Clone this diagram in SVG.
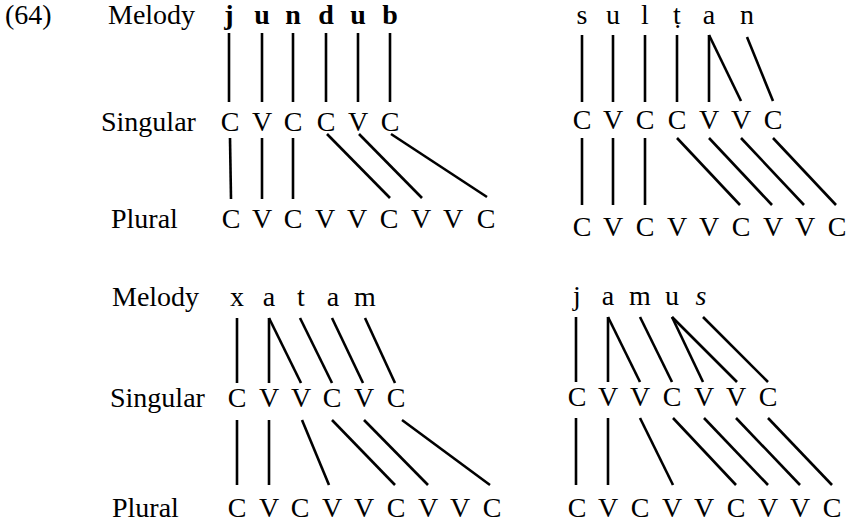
<svg xmlns="http://www.w3.org/2000/svg" width="852" height="523" viewBox="0 0 852 523">
<style>
text{font-family:"Liberation Serif","Times New Roman",serif;font-size:28px;fill:#000}
.s{text-anchor:middle}
.b{font-weight:bold}
.it{font-style:italic}
.ln line{stroke:#000;stroke-width:2.6;stroke-linecap:butt}
</style>
<rect width="852" height="523" fill="#fff"/>
<g id="ex-number"><text x="5" y="24">(64)</text></g>
<g id="labels">
<text id="lbl-melody-1" x="108" y="24">Melody</text>
<text id="lbl-singular-1" x="101" y="131">Singular</text>
<text id="lbl-plural-1" x="111" y="228">Plural</text>
<text id="lbl-melody-2" x="112" y="306">Melody</text>
<text id="lbl-singular-2" x="110" y="407">Singular</text>
<text id="lbl-plural-2" x="112" y="517">Plural</text>
</g>
<g id="jundub" class="s">
<g id="jundub-melody" class="b">
<text x="229" y="24">j</text><text x="262" y="24">u</text><text x="293" y="24">n</text><text x="326" y="24">d</text><text x="358" y="24">u</text><text x="390" y="24">b</text>
</g>
<g id="jundub-singular">
<text x="230" y="131">C</text><text x="262" y="131">V</text><text x="293" y="131">C</text><text x="326" y="131">C</text><text x="358" y="131">V</text><text x="390" y="131">C</text>
</g>
<g id="jundub-plural">
<text x="231" y="228">C</text><text x="262" y="228">V</text><text x="293" y="228">C</text><text x="325" y="228">V</text><text x="357" y="228">V</text><text x="389" y="228">C</text><text x="421" y="228">V</text><text x="453" y="228">V</text><text x="486" y="228">C</text>
</g>
</g>
<g id="sultan" class="s">
<g id="sultan-melody">
<text x="582" y="24">s</text><text x="613" y="24">u</text><text x="645" y="24">l</text><text x="677" y="24">ṭ</text><text x="709" y="24">a</text><text x="747" y="24">n</text>
</g>
<g id="sultan-singular">
<text x="582" y="129">C</text><text x="613" y="129">V</text><text x="645" y="129">C</text><text x="677" y="129">C</text><text x="709" y="129">V</text><text x="741" y="129">V</text><text x="773" y="129">C</text>
</g>
<g id="sultan-plural">
<text x="582" y="236">C</text><text x="613" y="236">V</text><text x="645" y="236">C</text><text x="677" y="236">V</text><text x="709" y="236">V</text><text x="741" y="236">C</text><text x="773" y="236">V</text><text x="805" y="236">V</text><text x="837" y="236">C</text>
</g>
</g>
<g id="xatam" class="s">
<g id="xatam-melody">
<text x="237" y="306">x</text><text x="269" y="306">a</text><text x="301" y="306">t</text><text x="333" y="306">a</text><text x="365" y="306">m</text>
</g>
<g id="xatam-singular">
<text x="237" y="407">C</text><text x="269" y="407">V</text><text x="301" y="407">V</text><text x="332" y="407">C</text><text x="364" y="407">V</text><text x="396" y="407">C</text>
</g>
<g id="xatam-plural">
<text x="237" y="517">C</text><text x="269" y="517">V</text><text x="300" y="517">C</text><text x="332" y="517">V</text><text x="364" y="517">V</text><text x="396" y="517">C</text><text x="428" y="517">V</text><text x="460" y="517">V</text><text x="492" y="517">C</text>
</g>
</g>
<g id="jamus" class="s">
<g id="jamus-melody">
<text x="577" y="305">j</text><text x="608" y="305">a</text><text x="640" y="305">m</text><text x="672" y="305">u</text><text class="it" x="701" y="305">s</text>
</g>
<g id="jamus-singular">
<text x="577" y="406">C</text><text x="608" y="406">V</text><text x="640" y="406">V</text><text x="672" y="406">C</text><text x="704" y="406">V</text><text x="736" y="406">V</text><text x="768" y="406">C</text>
</g>
<g id="jamus-plural">
<text x="577" y="517">C</text><text x="608" y="517">V</text><text x="640" y="517">C</text><text x="672" y="517">V</text><text x="704" y="517">V</text><text x="736" y="517">C</text><text x="768" y="517">V</text><text x="800" y="517">V</text><text x="832" y="517">C</text>
</g>
</g>
<g id="connectors" class="ln">
<!-- jundub melody-singular -->
<line x1="229" y1="33" x2="229" y2="102"/><line x1="262" y1="33" x2="262" y2="102"/><line x1="293" y1="33" x2="293" y2="102"/><line x1="326" y1="33" x2="326" y2="102"/><line x1="358" y1="33" x2="358" y2="102"/><line x1="390" y1="33" x2="390" y2="102"/>
<!-- jundub singular-plural -->
<line x1="230" y1="138" x2="231" y2="199"/><line x1="262" y1="138" x2="262" y2="199"/><line x1="293" y1="138" x2="293" y2="199"/>
<line x1="327" y1="134" x2="390" y2="198"/><line x1="359" y1="134" x2="422" y2="198"/><line x1="391" y1="134" x2="487" y2="197"/>
<!-- sultan melody-singular -->
<line x1="582" y1="35" x2="582" y2="102"/><line x1="613" y1="35" x2="613" y2="102"/><line x1="645" y1="35" x2="645" y2="102"/><line x1="677" y1="35" x2="677" y2="102"/><line x1="709" y1="35" x2="709" y2="102"/>
<line x1="709" y1="35" x2="741" y2="101"/><line x1="747" y1="37" x2="773" y2="101"/>
<!-- sultan singular-plural -->
<line x1="582" y1="138" x2="582" y2="205"/><line x1="613" y1="138" x2="613" y2="205"/><line x1="645" y1="138" x2="645" y2="205"/>
<line x1="677" y1="138" x2="740" y2="205"/><line x1="709" y1="138" x2="772" y2="205"/><line x1="741" y1="138" x2="804" y2="205"/><line x1="773" y1="138" x2="836" y2="205"/>
<!-- xatam melody-singular -->
<line x1="237" y1="318" x2="237" y2="383"/><line x1="269" y1="318" x2="269" y2="383"/>
<line x1="269" y1="318" x2="301" y2="383"/><line x1="300" y1="318" x2="332" y2="383"/><line x1="332" y1="318" x2="363" y2="383"/><line x1="365" y1="318" x2="395" y2="383"/>
<!-- xatam singular-plural -->
<line x1="237" y1="420" x2="237" y2="485"/><line x1="269" y1="420" x2="269" y2="485"/>
<line x1="302" y1="420" x2="329" y2="485"/><line x1="332" y1="420" x2="395" y2="485"/><line x1="364" y1="420" x2="428" y2="485"/><line x1="402" y1="420" x2="490" y2="485"/>
<!-- jamus melody-singular -->
<line x1="576" y1="317" x2="576" y2="382"/><line x1="608" y1="317" x2="608" y2="382"/>
<line x1="608" y1="317" x2="640" y2="382"/><line x1="640" y1="317" x2="672" y2="382"/><line x1="672" y1="317" x2="703" y2="382"/><line x1="672" y1="317" x2="737" y2="382"/><line x1="703" y1="317" x2="768" y2="382"/>
<!-- jamus singular-plural -->
<line x1="576" y1="418" x2="576" y2="485"/><line x1="608" y1="418" x2="608" y2="485"/>
<line x1="640" y1="418" x2="673" y2="485"/><line x1="673" y1="418" x2="736" y2="485"/><line x1="704" y1="418" x2="768" y2="485"/><line x1="736" y1="418" x2="800" y2="485"/><line x1="768" y1="418" x2="832" y2="485"/>
</g>
</svg>
